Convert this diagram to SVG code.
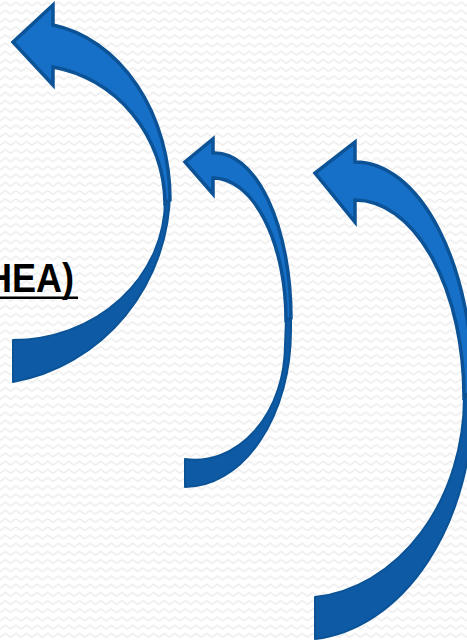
<svg xmlns="http://www.w3.org/2000/svg" width="467" height="640" viewBox="0 0 467 640">
  <defs>
    <pattern id="zig" width="10.6" height="8.2" patternUnits="userSpaceOnUse">
      <polyline points="0,6 5.3,2 10.6,6" fill="none" stroke="#efefef" stroke-width="1.8"/>
    </pattern>
    <style>
      .back { fill: #0e5aa5; stroke: #0b5397; stroke-width: 2; stroke-linejoin: round; }
      .front { fill: #1670c8; stroke: #0b5396; stroke-width: 3.5; stroke-linejoin: miter; }
      .label { font-family: "Liberation Sans", Arial, sans-serif; font-weight: bold; font-size: 40px; fill: #000000; }
    </style>
  </defs>
  <rect x="0" y="0" width="467" height="640" fill="#ffffff"/>
  <rect x="0" y="0" width="467" height="640" fill="url(#zig)"/>

  <g id="label">
    <text class="label" x="-14" y="292" textLength="88" lengthAdjust="spacingAndGlyphs">HEA)</text>
    <rect x="0" y="296.5" width="78" height="2.5" fill="#000000"/>
  </g>

  <g id="arrow1">
    <path class="back" d="M 13,340 L 13,382 A 190 195 0 0 0 170,190 L 165,200 A 152 140 0 0 1 13,340 Z"/>
    <path class="front" d="M 53,25 L 53,5 L 13,42 L 53,85 L 53,67 A 135 140 0 0 1 165,203 L 170,200 A 140 177 0 0 0 53,25 Z"/>
  </g>

  <g id="arrow2">
    <path class="back" d="M 185,459 L 185,487 A 106 157 0 0 0 291,330 L 291,318 L 286,320 L 285,345 A 90 114.7 0 0 1 185,459 Z"/>
    <path class="front" d="M 213,153 L 213,139 L 185,162 L 213,194 L 213,178 A 73 142 0 0 1 286,320 L 291,318 A 76 165 0 0 0 213,153 Z"/>
  </g>

  <g id="arrow3">
    <path class="back" d="M 315,597 L 315,639 A 173 240 0 0 0 473,400 L 473,390 L 464,397 A 164 200.8 0 0 1 315,597 Z"/>
    <path class="front" d="M 355,162 L 355,142 L 315,173 L 355,222 L 355,200 A 109 197 0 0 1 464,397 L 473,390 A 118 228 0 0 0 355,162 Z"/>
  </g>
</svg>
